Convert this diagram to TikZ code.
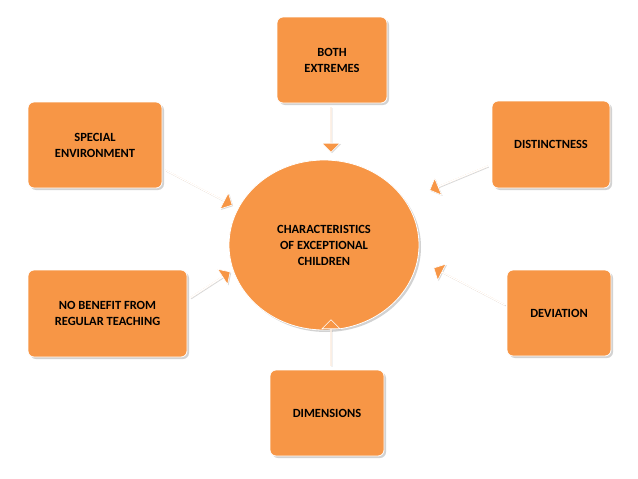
\documentclass[tikz,border=0pt]{standalone}
\usepackage{fontspec}
\setmainfont{Carlito}
\usetikzlibrary{shapes.arrows,shapes.geometric,shadows}
\definecolor{org}{HTML}{F79646}
\begin{document}
\begin{tikzpicture}[x=1pt,y=-1pt,
 box/.style={fill=org,draw=white,line width=0.8pt,rounded corners=6pt,
   drop shadow={shadow xshift=2pt,shadow yshift=-2pt,opacity=0.35},
   align=center,font=\bfseries\fontsize{12.5}{16}\selectfont,inner sep=0pt},
 barrow/.style={single arrow,fill=org,draw=white,line width=0.6pt,minimum width=18pt,
   single arrow head extend=6pt,single arrow head indent=0pt,inner sep=0pt,
   drop shadow={shadow xshift=1pt,shadow yshift=-1pt,opacity=0.3}}]
\useasboundingbox[fill=white] (0,0) rectangle (638,479);
\node[box,minimum width=110pt,minimum height=86pt] (both) at (332,60) {BOTH\\EXTREMES};
\node[box,minimum width=134pt,minimum height=86pt] (spec) at (95,145) {SPECIAL\\ENVIRONMENT};
\node[box,minimum width=118pt,minimum height=87pt] (dist) at (551,144.5) {DISTINCTNESS};
\node[box,minimum width=159pt,minimum height=87pt] (nob) at (107.5,313.5) {NO BENEFIT FROM\\REGULAR TEACHING};
\node[box,minimum width=104pt,minimum height=86pt] (dev) at (559,313) {DEVIATION};
\node[box,minimum width=114pt,minimum height=86pt] (dim) at (327,413) {DIMENSIONS};
\node[ellipse,fill=org,draw=white,line width=0.8pt,minimum width=190pt,minimum height=170pt,
  align=center,font=\bfseries\fontsize{12.5}{16}\selectfont,inner sep=0pt,
  drop shadow={shadow xshift=2pt,shadow yshift=-2pt,opacity=0.35}] (c) at (324,245) {CHARACTERISTICS\\OF EXCEPTIONAL\\CHILDREN};
\node[barrow,minimum height=45pt,rotate=-90] (a1) at (331,129.5) {};
\node[barrow,minimum height=75.6pt,rotate=-27.6] (a2) at (198.5,187.5) {};
\node[barrow,minimum height=62.8pt,rotate=-157.5] (a3) at (459,178) {};
\node[barrow,minimum height=47.7pt,rotate=33] (a4) at (210,285) {};
\node[barrow,minimum height=80pt,rotate=152.5] (a5) at (469.5,286.5) {};
\node[barrow,minimum height=46pt,rotate=90] (a6) at (331,343) {};
\end{tikzpicture}
\end{document}
